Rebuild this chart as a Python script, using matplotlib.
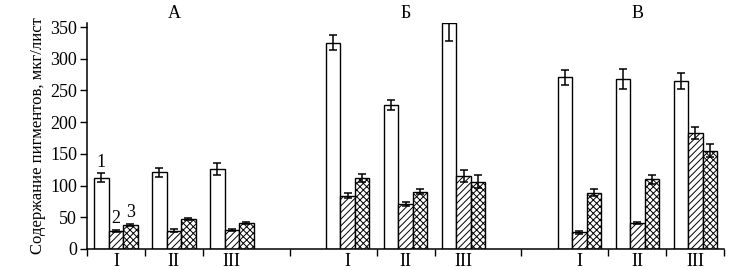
import matplotlib
matplotlib.use("Agg")
import matplotlib.pyplot as plt
import matplotlib.transforms as mtransforms
import numpy as np

plt.rcParams["font.family"] = ["Liberation Serif", "DejaVu Serif"]
plt.rcParams["hatch.linewidth"] = 0.7

panels = ["А", "Б", "В"]
groups = ["I", "II", "III"]

# pigment content (1 - white, 2 - hatched, 3 - cross-hatched), per panel, per group
pig1 = [[112, 121, 126], [325, 227, 356], [271, 268, 265]]
pig1_err = [[7, 7, 9], [12, 8, 28], [12, 16, 12]]
pig2 = [[28, 29, 30], [84, 71, 115], [26, 41, 183]]
pig2_err = [[2, 2, 2], [4, 3, 10], [2, 2, 9]]
pig3 = [[38, 47, 41], [112, 90, 106], [89, 110, 155]]
pig3_err = [[2, 2, 2], [6, 4, 10], [5, 7, 10]]

panel_start = [0, 4, 8]
bar_w = 0.25

fig = plt.figure(figsize=(7.56, 2.7), dpi=100)
ax = fig.add_axes([0.115, 0.078, 0.843, 0.836])
ax.set_xlim(0, 11)
ax.set_ylim(0, 356)

styles = [("white", ""), ("white", "/////"), ("white", "xxxxx")]
series = [(pig1, pig1_err), (pig2, pig2_err), (pig3, pig3_err)]

# x in data units, y in figure fraction (panel letters above the axes)
title_tr = mtransforms.blended_transform_factory(ax.transData, fig.transFigure)

centers = []
for p, start in enumerate(panel_start):
    for g in range(len(groups)):
        c = start + g + 0.5
        centers.append(c)
        for s, (vals, errs) in enumerate(series):
            x = c + (s - 1) * bar_w
            fc, hatch = styles[s]
            ax.bar(x, vals[p][g], width=bar_w, color=fc, edgecolor="black",
                   linewidth=1.0, hatch=hatch, zorder=2)
            ax.errorbar(x, vals[p][g], yerr=errs[p][g], fmt="none", ecolor="black",
                        elinewidth=1.1, capsize=3, capthick=1.1, zorder=3)
    ax.text(start + 1.5, 1 - 14 / 270, panels[p], transform=title_tr,
            ha="center", va="center", fontsize=13, clip_on=False)

# numbers above bars of the first group
for s, (vals, errs) in enumerate(series):
    x = panel_start[0] + 0.5 + (s - 1) * bar_w
    ax.text(x, vals[0][0] + errs[0][0] + 4, str(s + 1), ha="center", va="bottom", fontsize=13)

ax.set_yticks(np.arange(0, 351, 50))
ax.set_xticks([0, 1, 2, 3.5, 5, 6, 7.5, 9, 10, 11])
ax.set_xticklabels([])
ax.set_xticks(centers, minor=True)
ax.set_xticklabels(groups * 3, minor=True)
ax.tick_params(axis="x", which="minor", length=0, pad=3, labelsize=13)
ax.tick_params(axis="x", which="major", length=5, width=1)
ax.tick_params(axis="y", length=5, width=1, labelsize=13, pad=2)
ax.spines["top"].set_visible(False)
ax.spines["right"].set_visible(False)
ax.spines["left"].set_linewidth(1.1)
ax.spines["bottom"].set_linewidth(1.1)
ax.set_ylabel("Содержание пигментов, мкг/лист", fontsize=12, labelpad=3)

fig.savefig("out.png", dpi=100)
